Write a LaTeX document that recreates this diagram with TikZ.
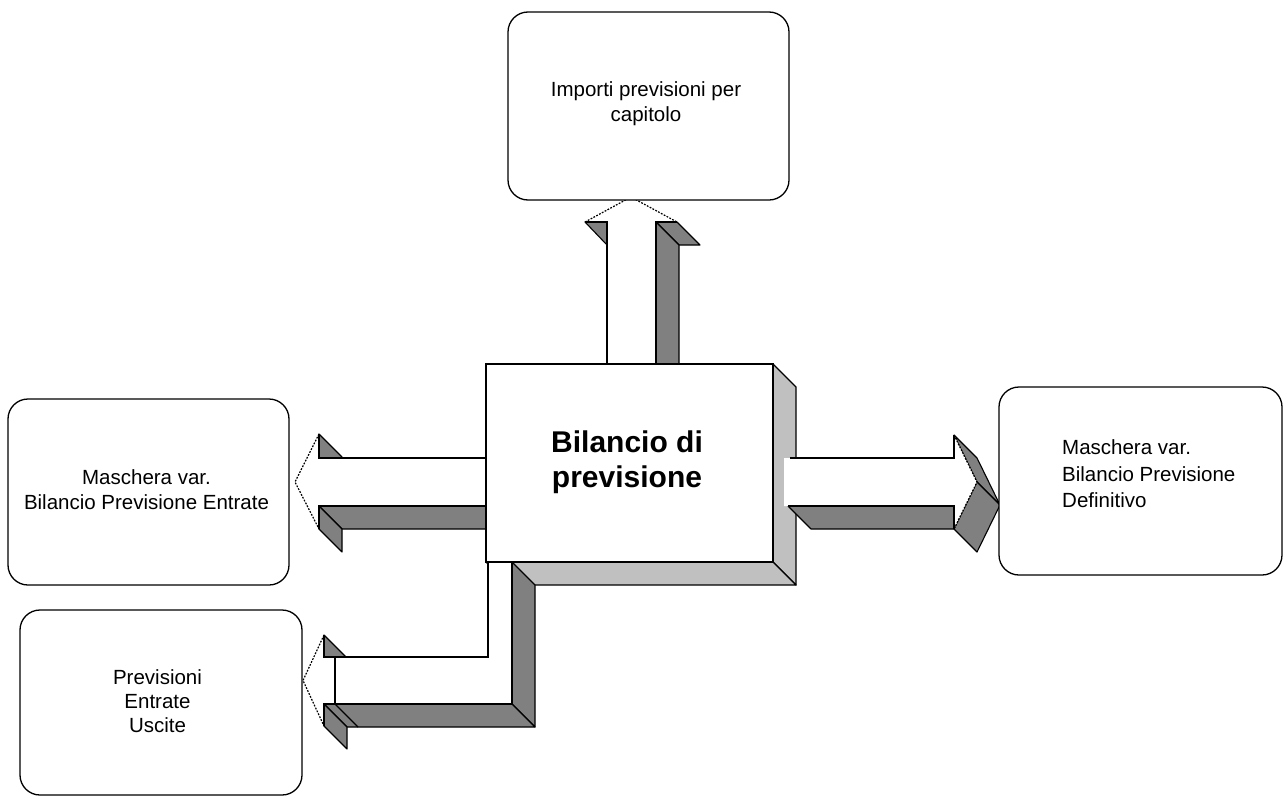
\documentclass[tikz,border=0pt]{standalone}
\usepackage{fontspec}
\setmainfont{Liberation Sans}
\definecolor{darkface}{HTML}{808080}
\definecolor{lightface}{HTML}{C0C0C0}
\begin{document}
\begin{tikzpicture}[x=1pt,y=-1pt,
  edge/.style={draw=black, line width=1.2pt, line join=miter},
  darkside/.style={fill=darkface, draw=black, line width=1.1pt, line join=round},
  lightside/.style={fill=lightface, draw=black, line width=1.2pt, line join=round},
  hidden/.style={draw=black, line width=1.2pt, dash pattern=on 1.8pt off 1.4pt},
  panel/.style={draw=black, line width=1.3pt, rounded corners=20pt, fill=white, inner sep=0pt},
  txt/.style={font=\fontsize{20.5}{25}\selectfont, align=center, inner sep=0pt}
]
\useasboundingbox (0,0) rectangle (1284,798);

% ---- upward arrow (behind the central block)
\draw[darkside] (585,222) -- (607,222) -- (630,245) -- (607,245) -- cycle;
\draw[darkside] (656,222) -- (677,222) -- (700,245) -- (679,245) -- cycle;
\draw[darkside] (656,222) -- (679,245) -- (679,387) -- (656,364) -- cycle;
\fill[white] (607,366) -- (607,222) -- (585,222) -- (631,197) -- (677,222) -- (656,222) -- (656,366) -- cycle;
\draw[edge] (607,366) -- (607,222) -- (585,222);
\draw[edge] (677,222) -- (656,222) -- (656,366);
\draw[hidden] (585,222) -- (631,197) -- (677,222);

% ---- leftward arrow (behind the central block)
\draw[darkside] (319,434) -- (319,458) -- (342,481) -- (342,457) -- cycle;
\draw[darkside] (319,506) -- (490,506) -- (513,529) -- (342,529) -- cycle;
\draw[darkside] (319,506) -- (319,529) -- (342,552) -- (342,529) -- cycle;
\fill[white] (490,458) -- (319,458) -- (319,434) -- (295,482) -- (319,529) -- (319,506) -- (490,506) -- cycle;
\draw[edge] (490,458) -- (319,458) -- (319,434);
\draw[edge] (319,529) -- (319,506) -- (490,506);
\draw[hidden] (319,434) -- (295,482) -- (319,529);

% ---- central block with its extruded faces
\draw[lightside] (773,364) -- (796,387) -- (796,585) -- (773,562) -- cycle;
\draw[lightside] (486,562) -- (773,562) -- (796,585) -- (509,585) -- cycle;
\node[draw=black, line width=1.3pt, fill=white, inner sep=0pt,
      minimum width=287pt, minimum height=198pt] (core) at (629.5,463) {};
\node[font=\bfseries\fontsize{30}{35}\selectfont, align=center, inner sep=0pt]
      (coretxt) at (627,462.5) {Bilancio di\\previsione};

% ---- rightward arrow (in front of the block's side face)
\draw[darkside] (788,506) -- (954,506) -- (977,529) -- (811,529) -- cycle;
\draw[darkside] (954,435) -- (977,482) -- (1000,505) -- (977,458) -- cycle;
\draw[darkside] (954,529) -- (977,482) -- (1000,505) -- (977,552) -- cycle;
\fill[white] (784,458) -- (954,458) -- (954,435) -- (977,482) -- (954,529) -- (954,506) -- (784,506) -- cycle;
\draw[edge] (790,458) -- (954,458) -- (954,435);
\draw[edge] (954,529) -- (954,506) -- (788,506);
\draw[hidden] (954,435) -- (977,482) -- (954,529);

% ---- bent arrow leaving the bottom of the block
\draw[darkside] (512,562) -- (535,585) -- (535,727) -- (512,704) -- cycle;
\draw[darkside] (324,704) -- (512,704) -- (535,727) -- (347,727) -- cycle;
\draw[darkside] (324,704) -- (324,726) -- (347,749) -- (347,727) -- cycle;
\draw[darkside] (324,635) -- (324,657) -- (347,680) -- (347,658) -- cycle;
\draw[line width=1.1pt] (335,704) -- (358,727);
\fill[white] (488,562.7) -- (512,562.7) -- (512,704) -- (324,704) -- (324,726) -- (303,680.5)
  -- (324,635) -- (324,657) -- (488,657) -- cycle;
\draw[edge] (488,562.7) -- (488,657) -- (324,657) -- (324,635);
\draw[edge] (324,726) -- (324,704) -- (512,704) -- (512,562.7);
\draw[hidden] (324,635) -- (303,680.5) -- (324,726);
\draw[line width=1.1pt] (335,657) -- (335,704);
\draw[line width=1.3pt] (486,562) -- (773,562);

% ---- rounded panels
\node[panel, minimum width=281pt, minimum height=188pt] (importi) at (648.5,106) {};
\node[txt] (importitxt) at (646,104) {Importi previsioni per\\capitolo};

\node[panel, minimum width=281pt, minimum height=186pt] (entrate) at (148.5,492) {};
\node[txt] (entratetxt) at (146.5,490) {Maschera var.\\Bilancio Previsione Entrate};

\node[panel, minimum width=283pt, minimum height=188pt] (definitivo) at (1140.5,481) {};
\node[txt, align=left, anchor=west, font=\fontsize{20.5}{26.5}\selectfont]
      (definitivotxt) at (1062,474) {Maschera var.\\Bilancio Previsione\\Definitivo};

\node[panel, minimum width=282pt, minimum height=185pt] (previsioni) at (161,702.5) {};
\node[txt, font=\fontsize{20.5}{24}\selectfont] (previsionitxt) at (157.5,701.5) {Previsioni\\Entrate\\Uscite};
\end{tikzpicture}
\end{document}
